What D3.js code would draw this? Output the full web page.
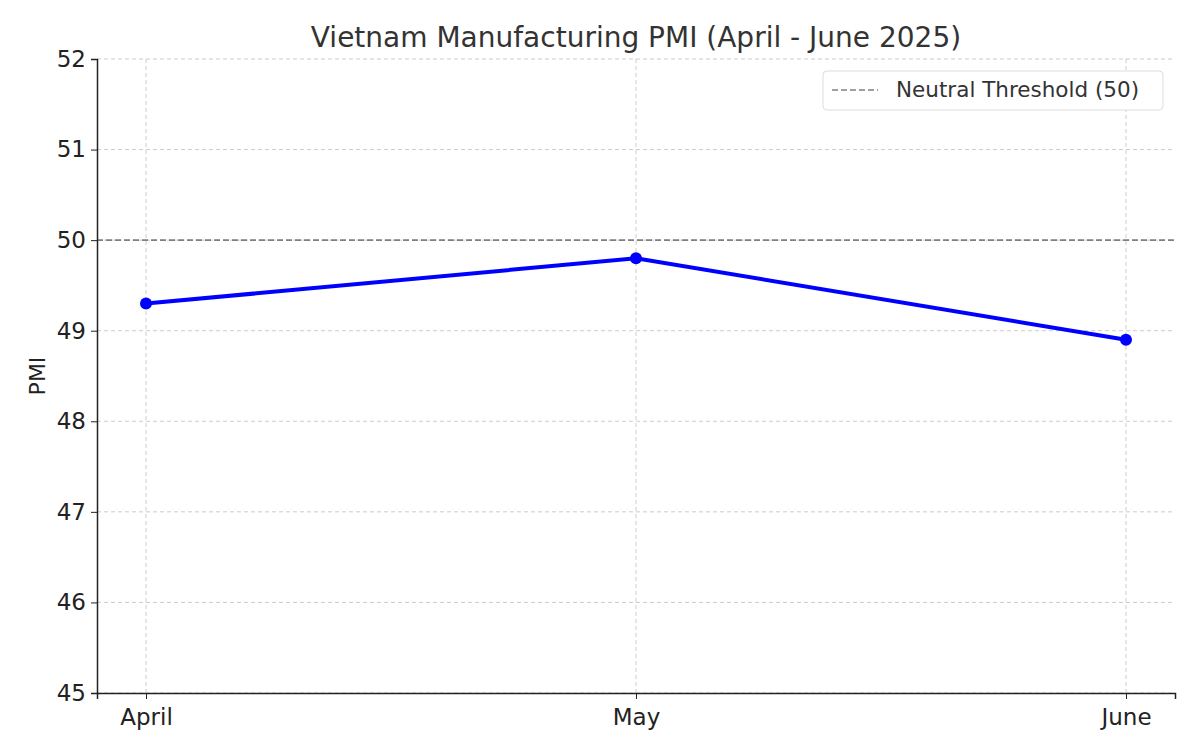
<!DOCTYPE html>
<html><head><meta charset="utf-8">
<script src="https://cdn.jsdelivr.net/npm/d3@7"></script>
<style>body{margin:0;background:#fff;font-family:"DejaVu Sans",sans-serif}</style>
</head><body><svg id="c" width="1200" height="750"></svg>
<script>
const months = ["April","May","June"];
const pmi = [49.3, 49.8, 48.9];
const yTicks = [45,46,47,48,49,50,51,52];
const threshold = 50;
const title = "Vietnam Manufacturing PMI (April - June 2025)";
const legendLabel = "Neutral Threshold (50)";

const svg = d3.select("#c");
const L=97,R=1175,T=59,B=693;
const x = d3.scalePoint().domain(months).range([L,R]).padding(0.1);
const y = d3.scaleLinear().domain([45,52]).range([B,T]);

svg.append("g").selectAll("line").data(yTicks).join("line")
  .attr("x1",L).attr("x2",R).attr("y1",d=>y(d)).attr("y2",d=>y(d))
  .attr("stroke","#ccc").attr("stroke-dasharray","4,3").attr("stroke-width",1);
svg.append("g").selectAll("line").data(months).join("line")
  .attr("x1",d=>x(d)).attr("x2",d=>x(d)).attr("y1",T).attr("y2",B)
  .attr("stroke","#ccc").attr("stroke-dasharray","4,3").attr("stroke-width",1);

svg.append("line").attr("x1",L).attr("x2",R).attr("y1",y(threshold)).attr("y2",y(threshold))
  .attr("stroke","#808080").attr("stroke-width",1.6).attr("stroke-dasharray","6,3");

const ya = svg.append("g").attr("transform",`translate(${L},0)`).call(d3.axisLeft(y).tickValues(yTicks).tickSize(6).tickFormat(d3.format("d")));
const xa = svg.append("g").attr("transform",`translate(0,${B})`).call(d3.axisBottom(x).tickSize(6));
[ya,xa].forEach(a=>{a.select(".domain").attr("stroke","#222").attr("stroke-width",1.5);
  a.selectAll("text").attr("font-family","DejaVu Sans").attr("font-size",23).attr("fill","#222");
  a.selectAll(".tick line").attr("stroke","#222");});
xa.selectAll("text").attr("dy","1.0em");
ya.selectAll("text").attr("dx","-2");

svg.append("path").datum(pmi).attr("fill","none").attr("stroke","#0000ff").attr("stroke-width",4)
  .attr("d",d3.line().x((d,i)=>x(months[i])).y(d=>y(d)));
svg.selectAll("circle.p").data(pmi).join("circle").attr("cx",(d,i)=>x(months[i])).attr("cy",d=>y(d))
  .attr("r",6).attr("fill","#0000ff");

svg.append("text").attr("x",636).attr("y",47).attr("text-anchor","middle").attr("font-size",28).attr("fill","#333").text(title);
svg.append("text").attr("transform","translate(45,376) rotate(-90)").attr("text-anchor","middle").attr("font-size",22).attr("fill","#222").text("PMI");

const lg = svg.append("g");
lg.append("rect").attr("x",823).attr("y",71).attr("width",340).attr("height",39).attr("rx",4)
  .attr("fill","#fff").attr("stroke","#ddd");
lg.append("line").attr("x1",832).attr("x2",878).attr("y1",90).attr("y2",90).attr("stroke","#808080").attr("stroke-width",1.6).attr("stroke-dasharray","6,3");
lg.append("text").attr("x",896).attr("y",97).attr("font-size",21.5).attr("fill","#333").text(legendLabel);
</script></body></html>
